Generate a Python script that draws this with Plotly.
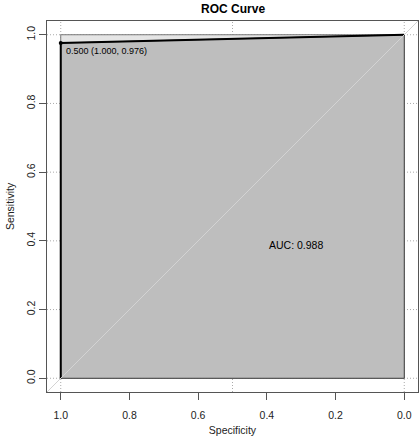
import plotly.graph_objects as go

# ROC data (specificity, sensitivity)
specificity = [1.0, 1.0, 0.0]
sensitivity = [0.0, 0.976, 1.0]
auc_value = 0.988
best_threshold = 0.500
best_spec = 1.000
best_sens = 0.976

x_ticks = [1.0, 0.8, 0.6, 0.4, 0.2, 0.0]
y_ticks = [0.0, 0.2, 0.4, 0.6, 0.8, 1.0]
grid_x = [1.0, 0.5, 0.0]
grid_y = [0.0, 0.2, 0.4, 0.6, 0.8, 1.0]

FONT = "Liberation Sans, Arial, sans-serif"
fig = go.Figure()

# max AUC polygon (full square)
fig.add_trace(go.Scatter(
    x=[1.0, 1.0, 0.0, 0.0, 1.0], y=[0.0, 1.0, 1.0, 0.0, 0.0],
    fill="toself", fillcolor="#E5E5E5", mode="lines",
    line=dict(color="#777777", width=1), hoverinfo="skip", showlegend=False))

# AUC polygon
poly_x = specificity + [0.0, specificity[0]]
poly_y = sensitivity + [0.0, sensitivity[0]]
fig.add_trace(go.Scatter(
    x=poly_x, y=poly_y, fill="toself", fillcolor="#BEBEBE", mode="lines",
    line=dict(color="#444444", width=1), hoverinfo="skip", showlegend=False))

# ROC curve
fig.add_trace(go.Scatter(
    x=specificity, y=sensitivity, mode="lines",
    line=dict(color="black", width=2), showlegend=False))

# best threshold point
fig.add_trace(go.Scatter(
    x=[best_spec], y=[best_sens], mode="markers",
    marker=dict(color="black", size=4), showlegend=False))

grid_line = dict(color="#AAAAAA", width=1, dash="1px,2px")
shapes = []
for gx in grid_x:
    shapes.append(dict(type="line", xref="x", yref="y domain", x0=gx, x1=gx, y0=0, y1=1,
                       line=grid_line, layer="below"))
for gy in grid_y:
    shapes.append(dict(type="line", xref="x domain", yref="y", x0=0, x1=1, y0=gy, y1=gy,
                       line=grid_line, layer="below"))
# identity line
shapes.append(dict(type="line", xref="x domain", yref="y domain", x0=0, y0=0, x1=1, y1=1,
                   line=dict(color="#D3D3D3", width=1), layer="above"))

annotations = [
    dict(x=best_spec, y=best_sens, xref="x", yref="y",
         text=f"{best_threshold:.3f} ({best_spec:.3f}, {best_sens:.3f})",
         showarrow=False, xanchor="left", yanchor="top", xshift=3, yshift=-1,
         font=dict(family=FONT, size=9, color="black")),
    dict(x=0.4, y=0.387, xref="x", yref="y", text=f"AUC: {auc_value:.3f}",
         showarrow=False, xanchor="left", yanchor="middle",
         font=dict(family=FONT, size=10.5, color="black")),
]

axis_common = dict(
    showline=True, mirror=True, linecolor="#555555", linewidth=1,
    ticks="outside", ticklen=7, tickcolor="#555555",
    showgrid=False, zeroline=False, automargin=False,
    tickfont=dict(family=FONT, size=10.5, color="#222222"),
)

fig.update_layout(
    width=420, height=440,
    margin=dict(l=47, r=2, t=21, b=48),
    paper_bgcolor="white", plot_bgcolor="white",
    title=dict(text="<b>ROC Curve</b>", x=0.555, xanchor="center", y=0.98, yanchor="middle",
               font=dict(family=FONT, size=12, color="black")),
    xaxis=dict(range=[1.04, -0.04], tickvals=x_ticks, ticktext=[f"{v:.1f}" for v in x_ticks],
               ticklabelstandoff=6,
               title=dict(text="Specificity", standoff=7, font=dict(family=FONT, size=10.5, color="#222222")),
               **axis_common),
    yaxis=dict(range=[-0.04, 1.04], tickvals=y_ticks, ticktext=[f"{v:.1f}" for v in y_ticks],
               tickangle=-90,
               title=dict(text="Sensitivity", standoff=8, font=dict(family=FONT, size=10.5, color="#222222")),
               **axis_common),
    shapes=shapes, annotations=annotations,
)

fig.write_html("out.html", config={"displayModeBar": False},
               post_script="document.body.style.margin='0';document.body.style.padding='0';")
